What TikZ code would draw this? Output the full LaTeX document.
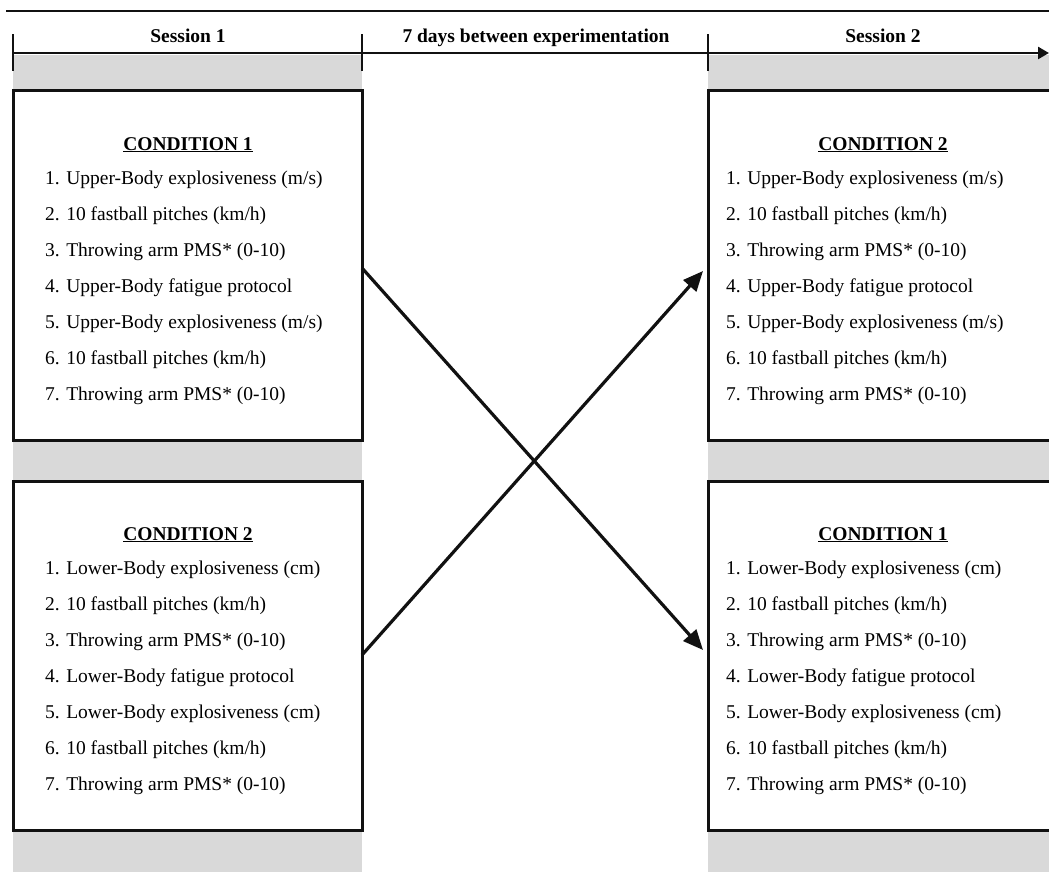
\documentclass[tikz,border=0pt]{standalone}
\usepackage{fontspec}
\setmainfont{Liberation Serif}
\usetikzlibrary{arrows.meta}
\definecolor{bandgray}{HTML}{D9D9D9}
\definecolor{ink}{HTML}{111111}
\begin{document}
\begin{tikzpicture}[x=1pt,y=-1pt,
  band/.style={fill=bandgray,draw=none},
  cbox/.style={draw=ink,line width=3pt,fill=white,minimum width=349pt,minimum height=349pt,inner sep=0pt},
  head/.style={anchor=base,inner sep=0pt,font=\fontsize{19.5}{22}\selectfont\bfseries},
  item/.style={anchor=base west,inner sep=0pt,font=\fontsize{19.5}{22}\selectfont},
  tick/.style={draw=ink,line width=2.5pt},
  cross/.style={draw=ink,line width=3.2pt,-{Triangle[length=20pt,width=17pt]}}
]
\clip (0,0) rectangle (1049,872);
\useasboundingbox (0,0) rectangle (1049,872);
% top rule
\coordinate (r0) at (6,11);
\coordinate (r1) at (1049,11);
\draw[ink,line width=2pt] (r0) -- (r1);
% gray bands
\fill[band] (13,55) rectangle (362,872);
\fill[band] (708,55) rectangle (1049,872);
% timeline
\coordinate (t0) at (13,53);
\coordinate (t1) at (362,53);
\coordinate (t2) at (708,53);
\coordinate (t3) at (1049,53);
\draw[ink,line width=2.5pt,-{Triangle[length=11pt,width=12pt]}] (t0) -- (t3);
\foreach \n in {t0,t1,t2}{\draw[tick] ([yshift=-18pt]\n) -- ([yshift=19pt]\n);}
\node[head] (s1) at (188,43) {Session 1};
\node[head] (s0) at (536,43) {7 days between experimentation};
\node[head] (s2) at (883,43) {Session 2};
% boxes
\node[cbox] (b1) at (187.5,265.5) {};
\node[cbox] (b2) at (187.5,655.5) {};
\node[cbox] (b3) at (882.5,265.5) {};
\node[cbox] (b4) at (882.5,655.5) {};
% headings
\node[head] (h1) at (188,150) {\underline{CONDITION 1}};
\node[head] (h2) at (188,540) {\underline{CONDITION 2}};
\node[head] (h3) at (883,150) {\underline{CONDITION 2}};
\node[head] (h4) at (883,540) {\underline{CONDITION 1}};
% items upper-left
\node[item] (a1) at (45,184) {1. Upper-Body explosiveness (m/s)};
\node[item] (a2) at (45,220) {2. 10 fastball pitches (km/h)};
\node[item] (a3) at (45,256) {3. Throwing arm PMS* (0-10)};
\node[item] (a4) at (45,292) {4. Upper-Body fatigue protocol};
\node[item] (a5) at (45,328) {5. Upper-Body explosiveness (m/s)};
\node[item] (a6) at (45,364) {6. 10 fastball pitches (km/h)};
\node[item] (a7) at (45,400) {7. Throwing arm PMS* (0-10)};
% items lower-left
\node[item] (c1) at (45,574) {1. Lower-Body explosiveness (cm)};
\node[item] (c2) at (45,610) {2. 10 fastball pitches (km/h)};
\node[item] (c3) at (45,646) {3. Throwing arm PMS* (0-10)};
\node[item] (c4) at (45,682) {4. Lower-Body fatigue protocol};
\node[item] (c5) at (45,718) {5. Lower-Body explosiveness (cm)};
\node[item] (c6) at (45,754) {6. 10 fastball pitches (km/h)};
\node[item] (c7) at (45,790) {7. Throwing arm PMS* (0-10)};
% items upper-right
\node[item] (d1) at (726,184) {1. Upper-Body explosiveness (m/s)};
\node[item] (d2) at (726,220) {2. 10 fastball pitches (km/h)};
\node[item] (d3) at (726,256) {3. Throwing arm PMS* (0-10)};
\node[item] (d4) at (726,292) {4. Upper-Body fatigue protocol};
\node[item] (d5) at (726,328) {5. Upper-Body explosiveness (m/s)};
\node[item] (d6) at (726,364) {6. 10 fastball pitches (km/h)};
\node[item] (d7) at (726,400) {7. Throwing arm PMS* (0-10)};
% items lower-right
\node[item] (e1) at (726,574) {1. Lower-Body explosiveness (cm)};
\node[item] (e2) at (726,610) {2. 10 fastball pitches (km/h)};
\node[item] (e3) at (726,646) {3. Throwing arm PMS* (0-10)};
\node[item] (e4) at (726,682) {4. Lower-Body fatigue protocol};
\node[item] (e5) at (726,718) {5. Lower-Body explosiveness (cm)};
\node[item] (e6) at (726,754) {6. 10 fastball pitches (km/h)};
\node[item] (e7) at (726,790) {7. Throwing arm PMS* (0-10)};
% crossing arrows
\coordinate (p1) at (362,268);
\coordinate (q1) at (703,650);
\coordinate (p2) at (362,655);
\coordinate (q2) at (703,271);
\draw[cross] (p1) -- (q1);
\draw[cross] (p2) -- (q2);
\end{tikzpicture}
\end{document}
